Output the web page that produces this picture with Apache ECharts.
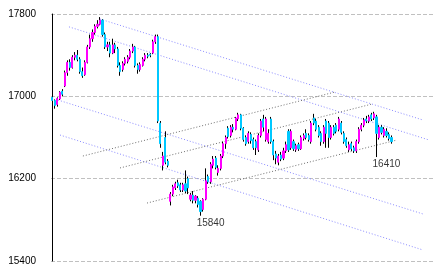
<!DOCTYPE html>
<html><head><meta charset="utf-8">
<script src="https://cdn.jsdelivr.net/npm/echarts@6/dist/echarts.min.js"></script>
<style>html,body{margin:0;padding:0;background:#fff;}#c{width:433px;height:275px;}</style>
</head><body><div id="c"></div>
<script>
// daily candles: open, close, low, high
const opens = [16990,16960,16920,16975,17050,17100,17230,17330,17280,17380,17400,17360,17240,17210,17330,17480,17560,17620,17680,17700,
17740,17600,17480,17500,17420,17500,17460,17300,17260,17320,17340,17380,17440,17480,17300,17260,17300,17360,17400,17410,
17420,17530,17580,16740,16330,16600,16370,15980,16050,16110,16160,16140,16090,16150,16200,16000,16040,15990,16010,15980,
15900,16000,16220,16170,16330,16400,16260,16300,16420,16540,16690,16620,16700,16680,16780,16820,16690,16600,16560,16630,
16580,16560,16480,16620,16780,16580,16560,16780,16560,16440,16360,16430,16400,16470,16660,16500,16560,16480,16530,16490,
16590,16640,16620,16560,16790,16760,16700,16640,16560,16760,16740,16600,16700,16720,16680,16740,16640,16580,16480,16540,
16500,16470,16560,16680,16720,16780,16760,16820,16790,16800,16600,16700,16620,16660,16630,16600];
const closes = [16960,16910,16980,17040,17020,17230,17330,17280,17380,17400,17360,17240,17200,17330,17480,17560,17620,17680,17700,17740,
17600,17480,17500,17420,17500,17460,17300,17240,17320,17360,17380,17440,17480,17300,17260,17310,17360,17400,17390,17400,
17530,17580,16760,16540,16420,16360,16330,16050,16120,16150,16130,16090,16140,16080,16110,16040,15990,16030,15950,15880,
16000,16180,16170,16340,16390,16310,16300,16420,16540,16600,16610,16700,16680,16790,16820,16690,16580,16540,16640,16570,
16500,16500,16620,16760,16700,16780,16640,16560,16430,16400,16420,16390,16470,16530,16480,16660,16490,16520,16490,16600,
16620,16600,16580,16740,16740,16680,16620,16560,16700,16640,16600,16700,16640,16660,16780,16650,16560,16520,16530,16490,
16470,16560,16680,16720,16770,16760,16800,16780,16830,16640,16700,16650,16680,16620,16590,16560];
const lows = [16940,16880,16900,16965,17000,17090,17200,17250,17270,17350,17340,17220,17180,17200,17320,17460,17530,17600,17660,17690,
17580,17460,17440,17380,17410,17420,17280,17200,17240,17300,17320,17360,17420,17280,17220,17240,17290,17340,17370,17380,
17410,17510,16740,16500,16280,16340,16310,15940,16030,16090,16110,16070,16070,16060,16050,15980,15960,15960,15920,15840,
15880,15990,16150,16150,16300,16290,16230,16280,16400,16490,16590,16600,16650,16670,16760,16670,16560,16520,16540,16540,
16480,16430,16460,16600,16660,16560,16540,16540,16380,16340,16330,16370,16380,16450,16460,16480,16470,16460,16470,16480,
16570,16580,16560,16540,16720,16660,16600,16520,16540,16500,16500,16580,16620,16640,16660,16630,16540,16500,16460,16470,
16450,16450,16540,16660,16700,16740,16740,16760,16770,16410,16580,16630,16600,16600,16570,16540];
const highs = [17010,16970,16990,17050,17070,17250,17350,17360,17400,17430,17450,17380,17280,17350,17500,17600,17650,17700,17740,17770,
17750,17620,17530,17530,17560,17520,17480,17330,17340,17380,17400,17460,17510,17490,17320,17330,17380,17420,17420,17420,
17550,17600,17600,16760,16460,16660,16390,16070,16140,16170,16190,16160,16160,16280,16220,16060,16080,16040,16030,15990,
16010,16300,16240,16360,16420,16420,16330,16440,16560,16620,16710,16720,16730,16800,16840,16830,16700,16620,16660,16650,
16600,16580,16640,16780,16820,16800,16680,16800,16580,16470,16440,16460,16500,16560,16680,16680,16580,16540,16550,16620,
16640,16680,16640,16760,16830,16780,16720,16660,16720,16780,16760,16720,16720,16740,16800,16760,16660,16600,16560,16560,
16520,16580,16700,16740,16790,16810,16820,16840,16850,16820,16720,16720,16700,16690,16650,16620];
const slotCount = 152;              // trading-day slots on the x axis (data + empty future space)
const yMin = 15400, yMax = 17800, yStep = 800;
// trend lines: [slot index, price] end points
const trendPurple = [
  [[6.66,17675],[149.9,16576]],
  [[19.0,17751],[147.5,16770]],
  [[2.29,16964],[147.5,15857]],
  [[3.08,16624],[147.5,15507]]
];
const trendGray = [
  [[12.2,16420],[112.5,17042]],
  [[26.96,16304],[127.2,16925]],
  [[37.7,15963],[137.2,16576]]
];
const annotIdx = [59,129];
const annotVal = [15840,16410];

const cats = [];
for (let i = 0; i < slotCount; i++) cats.push(String(i + 1));
const ohlc = opens.map((o, i) => [o, closes[i], lows[i], highs[i]]);
const bodies = opens.map((o, i) => [o, closes[i], Math.min(o, closes[i]), Math.max(o, closes[i])]);

const FONT = 'Liberation Sans';
const series = [];
trendPurple.forEach(seg => series.push({
  type: 'line', xAxisIndex: 1, yAxisIndex: 0, data: seg, symbol: 'none', silent: true, z: 1,
  lineStyle: { color: '#8c8cff', width: 1, type: [1, 2] }
}));
trendGray.forEach(seg => series.push({
  type: 'line', xAxisIndex: 1, yAxisIndex: 0, data: seg, symbol: 'none', silent: true, z: 1,
  lineStyle: { color: '#707070', width: 1, type: [1, 2] }
}));
series.push({
  type: 'candlestick', xAxisIndex: 0, yAxisIndex: 0, data: ohlc, barWidth: 1, z: 3,
  itemStyle: { color: '#000', color0: '#000', borderColor: '#000', borderColor0: '#000', borderWidth: 1 }
});
series.push({
  type: 'candlestick', xAxisIndex: 0, yAxisIndex: 0, data: bodies, barWidth: 1.6, z: 4,
  itemStyle: { color: '#ff00ff', color0: '#00c8ff', borderColor: '#ff00ff', borderColor0: '#00c8ff', borderWidth: 1 }
});
series.push({
  type: 'scatter', xAxisIndex: 0, yAxisIndex: 0, z: 5, symbolSize: 1,
  itemStyle: { color: 'rgba(0,0,0,0)' },
  data: annotIdx.map((x, k) => [x, annotVal[k]]),
  label: { show: true, position: 'bottom', distance: 2, offset: [10, 0], formatter: p => String(p.value[1]),
           color: '#000', fontSize: 10, fontFamily: FONT }
});

const chart = echarts.init(document.getElementById('c'), null, { renderer: 'canvas' });
chart.setOption({
  animation: false,
  backgroundColor: '#fff',
  grid: { left: 51, right: 0, top: 14, bottom: 14, containLabel: false },
  xAxis: [
    { type: 'category', data: cats, boundaryGap: true, show: false },
    { type: 'value', min: -0.5, max: slotCount - 0.5, show: false }
  ],
  yAxis: {
    type: 'value', min: yMin, max: yMax, interval: yStep,
    axisLine: { show: true, lineStyle: { color: '#000', width: 1 } },
    axisTick: { show: false },
    axisLabel: { color: '#000', fontSize: 10, fontFamily: FONT, margin: 15, formatter: v => String(v) },
    splitLine: { show: true, lineStyle: { color: '#c0c0c0', width: 1, type: [4, 2] } }
  },
  series: series
});
</script>
</body></html>
